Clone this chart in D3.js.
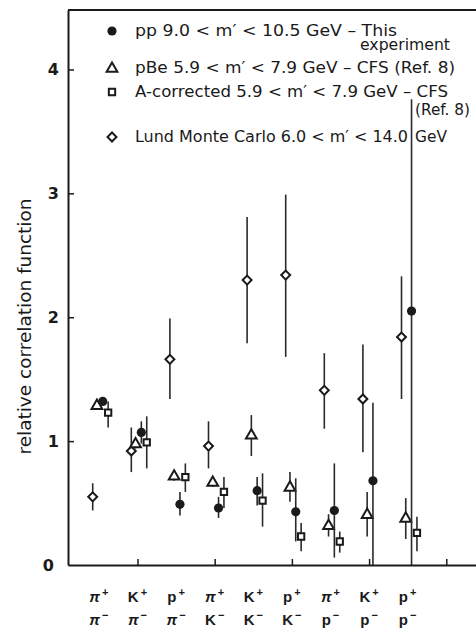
<!DOCTYPE html>
<html>
<head>
<meta charset="utf-8">
<script src="https://cdn.jsdelivr.net/npm/d3@7"></script>
<style>
  body { margin: 0; background: #fff; }
</style>
</head>
<body>
<svg id="chart"></svg>
<script>
// pair labels along the x axis (upper particle / lower particle)
const topParticle = ['π', 'K', 'p', 'π', 'K', 'p', 'π', 'K', 'p'];
const bottomParticle = ['π', 'π', 'π', 'K', 'K', 'K', 'p', 'p', 'p'];
const yTicks = [0, 1, 2, 3, 4];

// Lund Monte Carlo 6.0 < m' < 14.0 GeV (diamonds)
const lundVal = [0.55, 0.92, 1.66, 0.96, 2.30, 2.34, 1.41, 1.34, 1.84];
const lundLo  = [0.44, 0.75, 1.34, 0.78, 1.79, 1.68, 1.10, 0.91, 1.34];
const lundHi  = [0.66, 1.11, 1.99, 1.16, 2.81, 2.99, 1.71, 1.78, 2.33];

// pBe 5.9 < m' < 7.9 GeV, CFS (triangles)
const pbeVal = [1.29, 0.98, 0.72, 0.67, 1.05, 0.63, 0.32, 0.41, 0.38];
const pbeLo  = [1.26, 0.94, 0.68, 0.63, 0.88, 0.51, 0.23, 0.23, 0.21];
const pbeHi  = [1.33, 1.02, 0.76, 0.71, 1.21, 0.75, 0.41, 0.59, 0.54];

// pp 9.0 < m' < 10.5 GeV, this experiment (filled circles)
const ppVal = [1.32, 1.07, 0.49, 0.46, 0.60, 0.43, 0.44, 0.68, 2.05];
const ppLo  = [1.29, 0.98, 0.40, 0.38, 0.48, 0.19, 0.06, 0.00, 0.00];
const ppHi  = [1.35, 1.16, 0.59, 0.55, 0.71, 0.70, 0.82, 1.31, 3.76];

// A-corrected 5.9 < m' < 7.9 GeV, CFS (open squares); none for K+ p-
const acVal = [1.23, 0.99, 0.71, 0.59, 0.52, 0.23, 0.19, null, 0.26];
const acLo  = [1.11, 0.78, 0.59, 0.46, 0.31, 0.11, 0.10, null, 0.11];
const acHi  = [1.32, 1.20, 0.82, 0.71, 0.74, 0.34, 0.27, null, 0.39];

const width = 476, height = 631;
const ink = '#1a1a1a';
const sans = '"DejaVu Sans", sans-serif';

const svg = d3.select('#chart')
  .attr('width', width)
  .attr('height', height)
  .attr('font-family', sans)
  .attr('fill', ink);

const x = d3.scaleLinear().domain([0.2, 10.77]).range([68, 476]);
const y = d3.scaleLinear().domain([0, 4.48]).range([565, 10]);

// series: symbol type, offset within a cluster
const series = [
  { name: 'lund', val: lundVal, lo: lundLo, hi: lundHi, sym: 'diamond', dx: -0.16 },
  { name: 'pbe', val: pbeVal, lo: pbeLo, hi: pbeHi, sym: 'triangle', dx: -0.05 },
  { name: 'pp', val: ppVal, lo: ppLo, hi: ppHi, sym: 'circle', dx: 0.1 },
  { name: 'ac', val: acVal, lo: acLo, hi: acHi, sym: 'square', dx: 0.24 }
];

function drawSymbol(sel, sym) {
  if (sym === 'circle') {
    sel.append('circle').attr('r', 4.6).attr('fill', ink);
  } else if (sym === 'diamond') {
    sel.append('path')
      .attr('d', d3.symbol(d3.symbolSquare, 40)())
      .attr('transform', 'rotate(45)')
      .attr('fill', '#fff').attr('stroke', ink).attr('stroke-width', 2);
  } else if (sym === 'triangle') {
    sel.append('path')
      .attr('d', d3.symbol(d3.symbolTriangle, 50)())
      .attr('transform', 'translate(0,0.6)')
      .attr('fill', '#fff').attr('stroke', ink).attr('stroke-width', 2);
  } else {
    sel.append('path')
      .attr('d', d3.symbol(d3.symbolSquare, 40)())
      .attr('fill', '#fff').attr('stroke', ink).attr('stroke-width', 2);
  }
}

// axes
const yAxis = d3.axisLeft(y).tickValues(yTicks).tickFormat(d3.format('d'))
  .tickSizeInner(-6).tickSizeOuter(0).tickPadding(9);
const gy = svg.append('g').attr('transform', `translate(${x(0.2)},0)`).call(yAxis);
gy.attr('font-family', sans);
gy.selectAll('.tick text')
  .attr('font-size', 16).attr('font-weight', 'bold').attr('fill', ink)
  .attr('dx', d => d === 0 ? -5 : 0);
gy.select('.domain').attr('stroke', ink).attr('stroke-width', 2);
gy.selectAll('.tick line').attr('stroke', ink).attr('stroke-width', 1.5);
gy.selectAll('.tick').filter(d => d === 0).select('line').remove();

const xAxis = d3.axisBottom(x).tickValues([2, 4, 6, 8, 10]).tickSizeInner(-6).tickSizeOuter(0).tickFormat('');
const gx = svg.append('g').attr('transform', `translate(0,${y(0)})`).call(xAxis);
gx.select('.domain').attr('stroke', ink).attr('stroke-width', 2);
gx.selectAll('.tick line').attr('stroke', ink).attr('stroke-width', 1.5);

// top frame
svg.append('line')
  .attr('x1', x(0.2)).attr('x2', x(10.77))
  .attr('y1', y(4.48)).attr('y2', y(4.48))
  .attr('stroke', ink).attr('stroke-width', 2);

// y label
svg.append('text')
  .attr('transform', `translate(31,${(y(0.8) + y(3.05)) / 2}) rotate(-90)`)
  .attr('text-anchor', 'middle')
  .attr('font-size', 18)
  .attr('textLength', 256).attr('lengthAdjust', 'spacingAndGlyphs')
  .text('relative correlation function');

// x category labels
const labels = svg.append('g').attr('font-family', '"Liberation Sans", Arial, sans-serif');
topParticle.forEach((p, i) => {
  const cx = x(i + 1);
  [[p, '+', 602], [bottomParticle[i], '−', 625]].forEach(([base, charge, by]) => {
    const t = labels.append('text')
      .attr('x', cx).attr('y', by)
      .attr('text-anchor', 'middle')
      .attr('font-size', 15).attr('font-weight', 'bold');
    t.append('tspan').text(base).attr('font-style', base === 'π' ? 'italic' : 'normal');
    t.append('tspan').text(charge).attr('font-size', 11).attr('dx', 2).attr('dy', -6);
  });
});

// error bars and markers
series.forEach(s => {
  const pts = s.val.map((v, i) => ({ i, v, lo: s.lo[i], hi: s.hi[i] })).filter(d => d.v !== null);
  const g = svg.append('g').attr('class', `series-${s.name}`);
  g.selectAll('line.err').data(pts).join('line')
    .attr('class', 'err')
    .attr('x1', d => x(d.i + 1 + s.dx)).attr('x2', d => x(d.i + 1 + s.dx))
    .attr('y1', d => y(d.lo)).attr('y2', d => y(d.hi))
    .attr('stroke', '#2a2a2a').attr('stroke-width', 1.6);
  g.selectAll('g.mark').data(pts).join('g')
    .attr('class', 'mark')
    .attr('transform', d => `translate(${x(d.i + 1 + s.dx)},${y(d.v)})`)
    .each(function() { drawSymbol(d3.select(this), s.sym); });
});

// legend
const legendRows = [
  { sym: 'circle', y: 31, text: 'pp  9.0 < m\u2032 < 10.5 GeV – This', len: 262 },
  { sym: 'triangle', y: 68, text: 'pBe  5.9 < m\u2032 < 7.9 GeV – CFS (Ref. 8)', len: 320 },
  { sym: 'square', y: 92, text: 'A-corrected  5.9 < m\u2032 < 7.9 GeV – CFS', len: 313 },
  { sym: 'diamond', y: 137, text: 'Lund  Monte Carlo 6.0 < m\u2032 < 14.0', len: 273 }
];
const legend = svg.append('g');
legendRows.forEach(r => {
  const g = legend.append('g').attr('transform', `translate(112,${r.y})`);
  drawSymbol(g, r.sym);
  legend.append('text')
    .attr('x', 135).attr('y', r.y + 5)
    .attr('font-size', 15)
    .attr('textLength', r.len).attr('lengthAdjust', 'spacingAndGlyphs')
    .text(r.text);
});
[['experiment', 360, 50, 90], ['(Ref. 8)', 415, 115, 55], ['GeV', 415, 142, 32]].forEach(([t, tx, ty, len]) => {
  legend.append('text')
    .attr('x', tx).attr('y', ty)
    .attr('font-size', 15)
    .attr('textLength', len).attr('lengthAdjust', 'spacingAndGlyphs')
    .text(t);
});
</script>
</body>
</html>
